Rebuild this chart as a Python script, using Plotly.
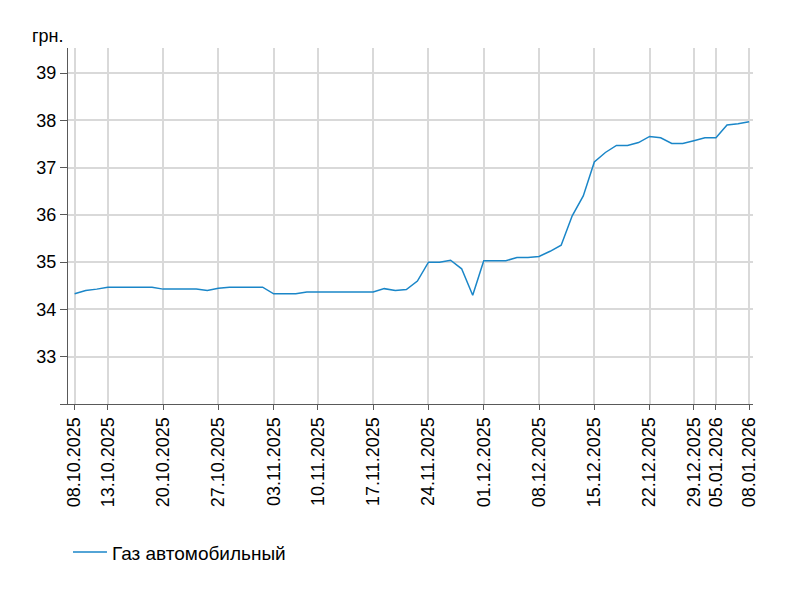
import plotly.graph_objects as go

dates = [
    "08.10.2025", "09.10.2025", "10.10.2025", "13.10.2025", "14.10.2025", "15.10.2025", "16.10.2025", "17.10.2025",
    "20.10.2025", "21.10.2025", "22.10.2025", "23.10.2025", "24.10.2025",
    "27.10.2025", "28.10.2025", "29.10.2025", "30.10.2025", "31.10.2025",
    "03.11.2025", "05.11.2025", "06.11.2025", "07.11.2025",
    "10.11.2025", "11.11.2025", "12.11.2025", "13.11.2025", "14.11.2025",
    "17.11.2025", "18.11.2025", "19.11.2025", "20.11.2025", "21.11.2025",
    "24.11.2025", "25.11.2025", "26.11.2025", "27.11.2025", "28.11.2025",
    "01.12.2025", "02.12.2025", "03.12.2025", "04.12.2025", "05.12.2025",
    "08.12.2025", "09.12.2025", "10.12.2025", "11.12.2025", "12.12.2025",
    "15.12.2025", "16.12.2025", "17.12.2025", "18.12.2025", "19.12.2025",
    "22.12.2025", "23.12.2025", "24.12.2025", "25.12.2025",
    "29.12.2025", "30.12.2025",
    "05.01.2026", "06.01.2026", "07.01.2026", "08.01.2026",
]

gas_prices = [
    34.33, 34.40, 34.43, 34.47, 34.47, 34.47, 34.47, 34.47,
    34.43, 34.43, 34.43, 34.43, 34.40,
    34.45, 34.47, 34.47, 34.47, 34.47,
    34.33, 34.33, 34.33, 34.37,
    34.37, 34.37, 34.37, 34.37, 34.37,
    34.37, 34.44, 34.40, 34.42, 34.60,
    35.00, 35.00, 35.04, 34.86, 34.30,
    35.03, 35.03, 35.03, 35.10, 35.10,
    35.12, 35.23, 35.36, 35.98, 36.40,
    37.12, 37.32, 37.47, 37.47, 37.53,
    37.66, 37.63, 37.51, 37.51,
    37.57, 37.63,
    37.63, 37.90, 37.93, 37.97,
]

tick_dates = [
    "08.10.2025", "13.10.2025", "20.10.2025", "27.10.2025", "03.11.2025", "10.11.2025",
    "17.11.2025", "24.11.2025", "01.12.2025", "08.12.2025", "15.12.2025", "22.12.2025",
    "29.12.2025", "05.01.2026", "08.01.2026",
]

y_ticks = [32, 33, 34, 35, 36, 37, 38, 39]
y_tick_text = ["", "33", "34", "35", "36", "37", "38", "39"]

series_name = "Газ автомобильный"
unit_label = "грн."

FONT = "Liberation Sans, Arial, sans-serif"
AXIS = "#595959"
GRID = "#d9d9d9"

fig = go.Figure()
fig.add_trace(go.Scatter(
    x=dates, y=gas_prices, mode="lines", name=series_name,
    line=dict(color="#1a86c8", width=1.5),
))

fig.update_layout(
    width=785, height=582,
    margin=dict(l=60, r=40, t=40, b=186, autoexpand=False),
    paper_bgcolor="white", plot_bgcolor="white",
    font=dict(family=FONT, size=18, color="#000000"),
    showlegend=True,
    legend=dict(
        orientation="h", xref="container", yref="container",
        x=0.0764, y=0.0975, xanchor="left", yanchor="top",
        itemwidth=34,
        font=dict(size=19), bgcolor="rgba(0,0,0,0)",
    ),
    xaxis=dict(
        type="category", range=[-0.6, 61.35], automargin=False,
        tickmode="array", tickvals=tick_dates, ticktext=tick_dates,
        tickangle=-90, ticks="outside", ticklen=5, tickcolor=AXIS, tickwidth=1,
        showline=True, linecolor=AXIS, linewidth=1,
        showgrid=True, gridcolor=GRID, gridwidth=1.5,
        tickfont=dict(size=18), zeroline=False,
    ),
    yaxis=dict(
        range=[32, 39.53], automargin=False,
        tickmode="array", tickvals=y_ticks, ticktext=y_tick_text,
        ticks="outside", ticklen=7, tickcolor=AXIS, tickwidth=1,
        showline=True, linecolor=AXIS, linewidth=1,
        showgrid=True, gridcolor=GRID, gridwidth=1.5,
        tickfont=dict(size=18), zeroline=False,
    ),
    annotations=[dict(
        text=unit_label, xref="paper", yref="paper",
        x=0, y=1.033, xanchor="right", yanchor="middle", xshift=-2,
        showarrow=False, font=dict(size=18),
    )],
)

fig.write_html("out.html")
